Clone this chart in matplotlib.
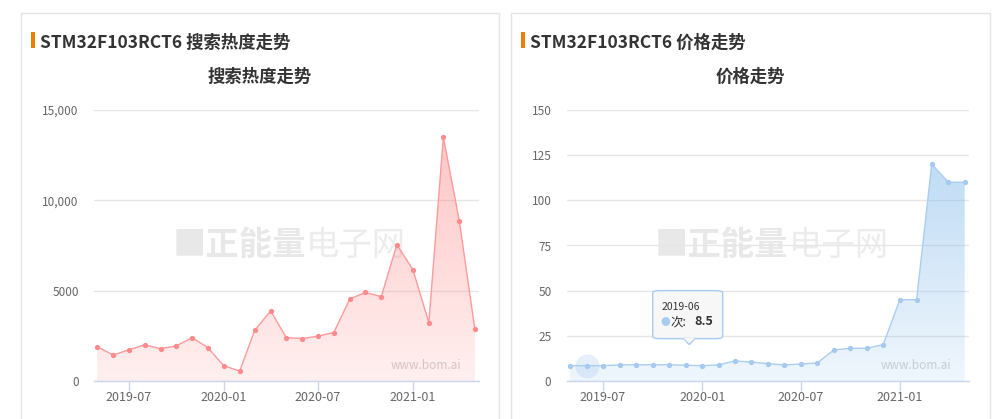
import numpy as np
import matplotlib
matplotlib.use("Agg")
import matplotlib.pyplot as plt
import matplotlib.dates as mdates
from matplotlib.patches import Rectangle, FancyBboxPatch, Polygon
from datetime import datetime

plt.rcParams['font.family'] = ['Noto Sans CJK SC', 'DejaVu Sans']

# data
part = "STM32F103RCT6"
months = ['2019-05', '2019-06', '2019-07', '2019-08', '2019-09', '2019-10', '2019-11',
          '2019-12', '2020-01', '2020-02', '2020-03', '2020-04', '2020-05', '2020-06',
          '2020-07', '2020-08', '2020-09', '2020-10', '2020-11', '2020-12', '2021-01',
          '2021-02', '2021-03', '2021-04', '2021-05']
search_heat = [1900, 1440, 1720, 2000, 1790, 1940, 2400, 1850, 850, 550, 2810, 3880, 2400,
               2350, 2480, 2680, 4540, 4900, 4670, 7550, 6170, 3230, 13500, 8850, 2860]
price = [8.5, 8.5, 8.5, 8.9, 9.0, 9.0, 9.0, 8.7, 8.5, 8.9, 11.1, 10.5, 9.6, 8.9, 9.4,
         10.0, 17.2, 18.1, 18.1, 20.1, 45, 45, 120, 110, 110]
heat_ticks = [0, 5000, 10000, 15000]
heat_labels = ['0', '5000', '10,000', '15,000']
price_ticks = [0, 25, 50, 75, 100, 125, 150]
hover_idx = 1

dates = [datetime.strptime(m, '%Y-%m') for m in months]
xnum = mdates.date2num(dates)

W, H = 992, 419
fig = plt.figure(figsize=(W / 100, H / 100), dpi=100)
fig.patch.set_facecolor('white')


def px(x0, y0, w, h):
    # pixel box (top-left origin) -> figure fraction
    return [x0 / W, 1 - (y0 + h) / H, w / W, h / H]


# panels + headers
for x0, x1, head, sub in [(20.5, 498.5, part + ' 搜索热度走势', '搜索热度走势'),
                          (510.5, 989.5, part + ' 价格走势', '价格走势')]:
    fig.patches.append(Rectangle((x0 / W, -0.1), (x1 - x0) / W, 1.1 - 13.5 / H,
                                 transform=fig.transFigure, fill=False,
                                 edgecolor='#e4e4e4', lw=1))
    fig.patches.append(Rectangle(((x0 + 10.5) / W, 1 - 48 / H), 4 / W, 16 / H,
                                 transform=fig.transFigure, color='#ef7d00', lw=0))
    fig.text((x0 + 19.5) / W, 1 - 42.5 / H, head, fontsize=12.5, fontweight='bold',
             color='#333333', va='center', ha='left')
    fig.text((x0 + x1) / 2 / W, 1 - 76.5 / H, sub, fontsize=12.5, fontweight='bold',
             color='#333333', va='center', ha='center')


def gradient_fill(ax, x, y, rgb, a_top, a_bot):
    poly = ax.fill_between(x, y, 0, facecolor='none', edgecolor='none')
    path = poly.get_paths()[0]
    grad = np.zeros((256, 1, 4))
    grad[..., :3] = rgb
    grad[:, 0, 3] = np.linspace(a_bot, a_top, 256)
    im = ax.imshow(grad, extent=[x[0], x[-1], 0, max(y)], origin='lower',
                   aspect='auto', zorder=1, interpolation='bilinear')
    im.set_clip_path(path, transform=ax.transData)


def style(ax, ticks, labels, ymax):
    ax.set_ylim(0, ymax)
    ax.set_xlim(xnum[0] - 6, xnum[-1] + 8)
    ax.set_yticks(ticks)
    ax.set_yticklabels(labels)
    ax.grid(axis='y', color='#e6e6e6', lw=1)
    ax.set_axisbelow(True)
    for s in ['left', 'right', 'top']:
        ax.spines[s].set_visible(False)
    ax.spines['bottom'].set_color('#ccd6eb')
    ax.spines['bottom'].set_linewidth(1)
    ax.xaxis.set_major_locator(mdates.MonthLocator(bymonth=[1, 7]))
    ax.xaxis.set_major_formatter(mdates.DateFormatter('%Y-%m'))
    ax.tick_params(axis='x', length=7, color='#ccd6eb', width=1, pad=0.5,
                   labelsize=9, labelcolor='#666666')
    ax.tick_params(axis='y', length=0, pad=11, labelsize=8.5, labelcolor='#666666')


def watermark(ax):
    ax.text(0.551, 0.5, '■正能量', transform=ax.transAxes, fontsize=24,
            fontweight='bold', color='#e8e8e8', ha='right', va='center', zorder=0)
    ax.text(0.551, 0.5, '电子网', transform=ax.transAxes, fontsize=24,
            color='#ececec', ha='left', va='center', zorder=0)
    ax.text(0.955, 0.059, 'www.bom.ai', transform=ax.transAxes, fontsize=8.5,
            color='#cfcfcf', ha='right', va='center', zorder=0)


# left chart: search heat
ax1 = fig.add_axes(px(94, 110, 385, 271))
ax1.set_facecolor('none')
watermark(ax1)
ax1.plot(dates, search_heat, color='#ff9a9a', lw=1, marker='o', ms=2.8,
         mfc='#ff8c8c', mec='#ff8c8c', zorder=3)
gradient_fill(ax1, xnum, search_heat, (1.0, 0.5, 0.5), 0.45, 0.12)
style(ax1, heat_ticks, heat_labels, 15000)

# right chart: price
ax2 = fig.add_axes(px(566.7, 110, 402.3, 271))
ax2.set_facecolor('none')
watermark(ax2)
ax2.plot(dates, price, color='#abcef0', lw=1, marker='o', ms=2.8,
         mfc='#a6caef', mec='#a6caef', zorder=3)
gradient_fill(ax2, xnum, price, (0.55, 0.75, 0.93), 0.55, 0.14)
style(ax2, price_ticks, [str(t) for t in price_ticks], 150)
ax2.scatter([dates[hover_idx]], [price[hover_idx]], s=300, color='#a8ccf0',
            alpha=0.3, lw=0, zorder=2)

# tooltip near the hovered point
fig.canvas.draw()
hx, hy = ax2.transData.transform((xnum[hover_idx], price[hover_idx]))
to_fig = fig.transFigure.inverted()


def f(dx, dy):
    return to_fig.transform((hx + dx, hy + dy))


bx0, by0 = f(66, 27)
bx1, by1 = f(136, 75)
fig.patches.append(FancyBboxPatch((bx0, by0), bx1 - bx0, by1 - by0,
                                  boxstyle='round,pad=0,rounding_size=0.006',
                                  transform=fig.transFigure, facecolor='#f7f7f7',
                                  edgecolor='#a8ccf0', lw=1, zorder=5))
fig.patches.append(Polygon([f(96.6, 27.5), f(102.6, 21), f(108.6, 27.5)],
                           closed=True, transform=fig.transFigure,
                           facecolor='#f7f7f7', edgecolor='#a8ccf0', lw=1, zorder=6))
fig.patches.append(Polygon([f(96, 28.2), f(109, 28.2), f(102.6, 22.5)], closed=True,
                           transform=fig.transFigure, facecolor='#f7f7f7',
                           edgecolor='none', zorder=7))
tx, ty = f(75, 59)
fig.text(tx, ty, months[hover_idx], fontsize=7.5, color='#333333', va='center', zorder=8)
dx_, dy_ = f(78.3, 43.7)
fig.text(dx_, dy_, '●', fontsize=7, color='#a8ccf0', va='center', ha='center', zorder=8)
cx, cy = f(84, 44)
fig.text(cx, cy, '次:', fontsize=9, color='#333333', va='center', zorder=8)
vx, vy = f(108, 44)
fig.text(vx, vy, str(price[hover_idx]), fontsize=9, fontweight='bold',
         color='#333333', va='center', zorder=8)

fig.savefig('out.png', dpi=100)
